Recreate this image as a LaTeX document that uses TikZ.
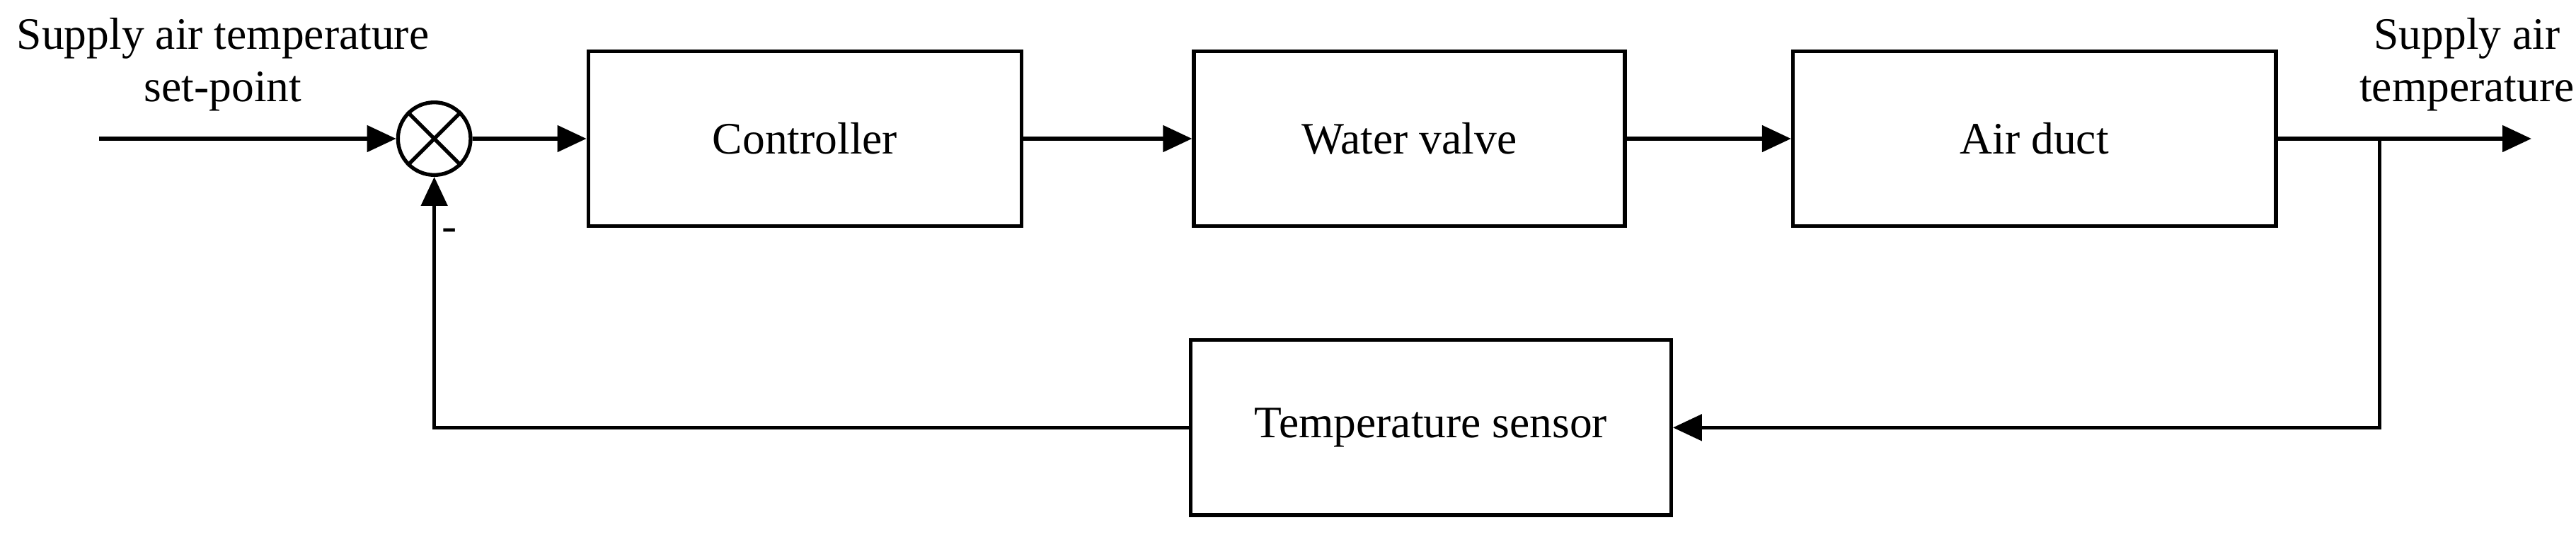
\documentclass[tikz,border=0pt]{standalone}
\usepackage{fontspec}
\setmainfont{Liberation Serif}
\usetikzlibrary{arrows.meta}
\begin{document}
\begin{tikzpicture}[x=0.02cm,y=-0.02cm,
  every node/.style={font=\fontsize{15.5}{18}\selectfont},
  blk/.style={draw,line width=1.3pt,minimum width=5.25cm,minimum height=2.12cm,inner sep=0pt},
  ln/.style={line width=1.3pt},
  arr/.style={ln,-{Triangle[length=10pt,width=9pt]}}]
\useasboundingbox (0,0) rectangle (1560,325);
\node[draw,circle,line width=1.3pt,minimum size=0.88cm,inner sep=0pt] (s) at (263,84) {};
\draw[line width=1.3pt] (s.north west)--(s.south east) (s.north east)--(s.south west);
\node[blk] (c) at (487.5,84) {Controller};
\node[blk,minimum width=5.22cm] (v) at (853.5,84) {Water valve};
\node[blk,minimum width=5.85cm] (d) at (1232,84) {Air duct};
\node[blk,minimum width=5.82cm] (t) at (866.5,259) {Temperature sensor};
\coordinate (in) at (60,84);
\coordinate (out) at (1533,84);
\coordinate (b) at (1441,84);
\coordinate (b2) at (1441,259);
\coordinate (fb) at (263,259);
\node[align=center,inner sep=0pt] at (135,39) {Supply air temperature\\set-point};
\node[align=center,inner sep=0pt] at (1494,39) {Supply air\\temperature};
\node[inner sep=0pt] at (272,142) {-};
\draw[arr] (in)--(s);
\draw[arr] (s)--(c);
\draw[arr] (c)--(v);
\draw[arr] (v)--(d);
\draw[arr] (d)--(out);
\draw[arr] (b)--(b2)--(t);
\draw[arr] (t)--(fb)--(s);
\end{tikzpicture}
\end{document}
